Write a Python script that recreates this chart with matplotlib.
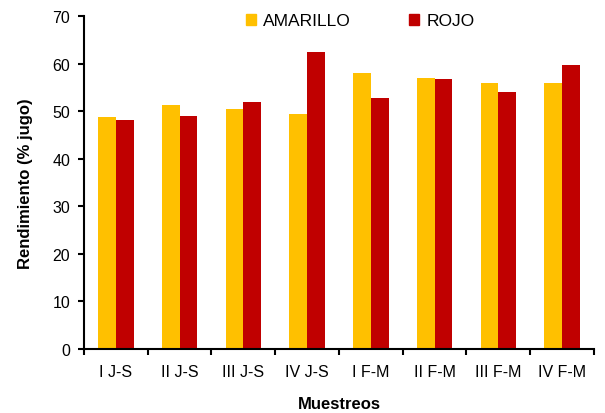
import numpy as np
import matplotlib
matplotlib.use('Agg')
import matplotlib.pyplot as plt
from matplotlib.patches import Patch

plt.rcParams['font.family'] = ['Liberation Sans', 'DejaVu Sans']

# datos
muestreos = ['I J-S', 'II J-S', 'III J-S', 'IV J-S', 'I F-M', 'II F-M', 'III F-M', 'IV F-M']
amarillo = [48.8, 51.2, 50.5, 49.4, 58.0, 57.0, 55.9, 55.9]
rojo = [48.1, 49.0, 51.9, 62.5, 52.8, 56.8, 54.0, 59.7]

COL_AMARILLO = '#FFC000'
COL_ROJO = '#C00000'

fig = plt.figure(figsize=(6.05, 4.14), dpi=100)
ax = fig.add_axes([0.1388, 0.1546, 0.8430, 0.8043])

x = np.arange(len(muestreos))
w = 0.28
ax.bar(x - w / 2, amarillo, width=w, color=COL_AMARILLO, label='AMARILLO')
ax.bar(x + w / 2, rojo, width=w, color=COL_ROJO, label='ROJO')

ax.set_xlim(-0.5, len(muestreos) - 0.5)
ax.set_ylim(0, 70)
ax.set_yticks(range(0, 71, 10))

# ticks entre grupos, etiquetas centradas
ax.set_xticks(np.arange(-0.5, len(muestreos), 1.0))
ax.set_xticklabels([])
ax.set_xticks(x, minor=True)
ax.set_xticklabels(muestreos, minor=True)
ax.tick_params(axis='x', which='minor', length=0, pad=11, labelsize=11.5)
ax.tick_params(axis='x', which='major', direction='out', length=4, width=1.5)
ax.tick_params(axis='y', direction='out', length=4, width=1.5, labelsize=11.5, pad=6)

for s in ['top', 'right']:
    ax.spines[s].set_visible(False)
for s in ['left', 'bottom']:
    ax.spines[s].set_linewidth(1.5)

ax.set_xlabel('Muestreos', fontsize=12, fontweight='bold', labelpad=12)
ax.set_ylabel('Rendimiento (% jugo)', fontsize=12, fontweight='bold', labelpad=14)

handles = [Patch(color=COL_AMARILLO), Patch(color=COL_ROJO)]
fig.legend(handles, ['AMARILLO', 'ROJO'], loc='center', bbox_to_anchor=(0.595, 0.947),
           ncol=2, frameon=False, fontsize=12.5, handlelength=0.6, handleheight=0.6,
           handletextpad=0.4, columnspacing=3.35)

plt.savefig('out.png', dpi=100)
